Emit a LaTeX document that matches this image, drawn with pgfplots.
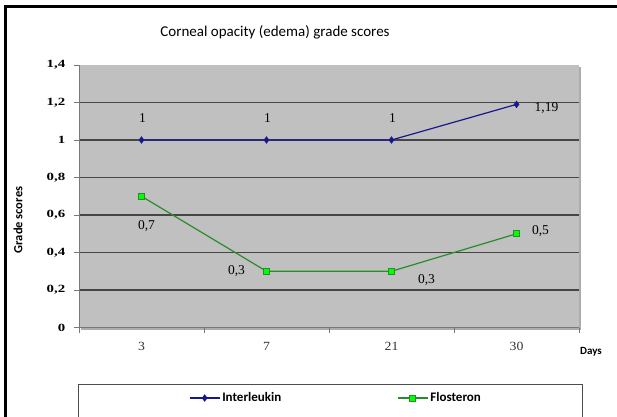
\documentclass[border=0pt]{standalone}
\usepackage{fontspec}
\usepackage{pgfplots}
\usepackage{pgfplotstable}
\pgfplotsset{compat=1.18}
\setmainfont{Liberation Serif}
\newfontfamily\calfont{Carlito}

\definecolor{plotbg}{RGB}{192,192,192}
\definecolor{gridc}{RGB}{70,70,70}
\definecolor{axisc}{RGB}{120,120,120}
\definecolor{navyline}{RGB}{24,24,140}
\definecolor{greenline}{RGB}{40,140,40}
\definecolor{limefill}{RGB}{0,255,0}

% x = category index (days 3, 7, 21, 30), label text and label offsets
\pgfplotstableread{
x y lab dx dy
0 1 1 1 22
1 1 1 1 22
2 1 1 1 22
3 1.19 1,19 30 -4
}\interleukin

\pgfplotstableread{
x y lab dx dy
0 0.7 0,7 5 -30
1 0.3 0,3 -30 0
2 0.3 0,3 35 -9
3 0.5 0,5 24 3
}\flosteron

\begin{document}
\begin{tikzpicture}
\useasboundingbox (0pt,0pt) rectangle (617pt,416pt);
% outer frame (left and top)
\draw[line width=3pt] (5pt,-5pt) -- (5pt,409pt) -- (625pt,409pt);
% shadow of the plot area
\fill[gray!65] (81pt,86.5pt) rectangle (581pt,349pt);
\begin{axis}[
  at={(79pt,88.5pt)}, anchor=south west,
  scale only axis, width=500pt, height=262.5pt,
  xmin=-0.5, xmax=3.5, ymin=0, ymax=1.4,
  axis background/.style={fill=plotbg},
  axis x line*=bottom, axis y line*=left,
  axis line style={axisc, line width=0.8pt},
  xtick={0,1,2,3}, xticklabels={3,7,21,30},
  major x tick style={draw=none},
  minor xtick={-0.5,0.5,1.5,2.5,3.5},
  minor x tick style={axisc, line width=0.8pt},
  ytick={0,0.2,0.4,0.6,0.8,1,1.2},
  yticklabels={0,{0,2},{0,4},{0,6},{0,8},1,{1,2}},
  extra y ticks={1.4}, extra y tick labels={1{,}4},
  extra y tick style={grid=none},
  y tick style={axisc, line width=0.8pt},
  tick align=outside, major tick length=5pt, minor tick length=5pt,
  ymajorgrids, major grid style={gridc, line width=1.5pt},
  xticklabel style={font=\fontsize{12.5}{14}\selectfont, text=black!80, xscale=1.1, yshift=-6pt},
  yticklabel style={font=\bfseries\fontsize{11}{13}\selectfont, xscale=1.35, xshift=-3pt},
  clip=false,
  legend style={at={(0.514,-0.2686)}, anchor=center, draw=none, fill=none,
    legend columns=2, font=\calfont\bfseries\fontsize{13}{15}\selectfont,
    /tikz/every even column/.append style={column sep=114pt}},
  legend image code/.code={\draw[mark repeat=2,mark phase=2,#1]
    plot coordinates {(0pt,0pt)(15pt,0pt)(30pt,0pt)};},
  nodes near coords, point meta=explicit symbolic,
  visualization depends on={\thisrow{dx}\as\dx},
  visualization depends on={\thisrow{dy}\as\dy},
  every node near coord/.append style={anchor=center, xshift=\dx pt,
    yshift=\dy pt, text=black, font=\fontsize{13.5}{15}\selectfont},
]
\addplot[navyline, line width=1.2pt, mark=diamond*, mark size=2.8pt,
  mark options={fill=navyline, draw=navyline}]
  table[x=x, y=y, meta=lab]{\interleukin};
\addlegendentry{Interleukin}
\addplot[greenline, line width=1.2pt, mark=square*, mark size=3pt,
  mark options={fill=limefill, draw=greenline, line width=0.8pt}]
  table[x=x, y=y, meta=lab]{\flosteron};
\addlegendentry{Flosteron}
\end{axis}
% titles and labels
\node[font=\calfont\fontsize{15}{17}\selectfont] at (275pt,384pt) {Corneal opacity (edema) grade scores};
\node[rotate=90, font=\calfont\bfseries\fontsize{12.5}{14}\selectfont] at (18pt,196pt) {Grade scores};
\node[font=\calfont\bfseries\fontsize{11}{13}\selectfont] at (591pt,64pt) {Days};
% legend frame
\draw[gray!60!black, line width=1pt] (78pt,-5pt) rectangle (582pt,32pt);
\end{tikzpicture}
\end{document}
